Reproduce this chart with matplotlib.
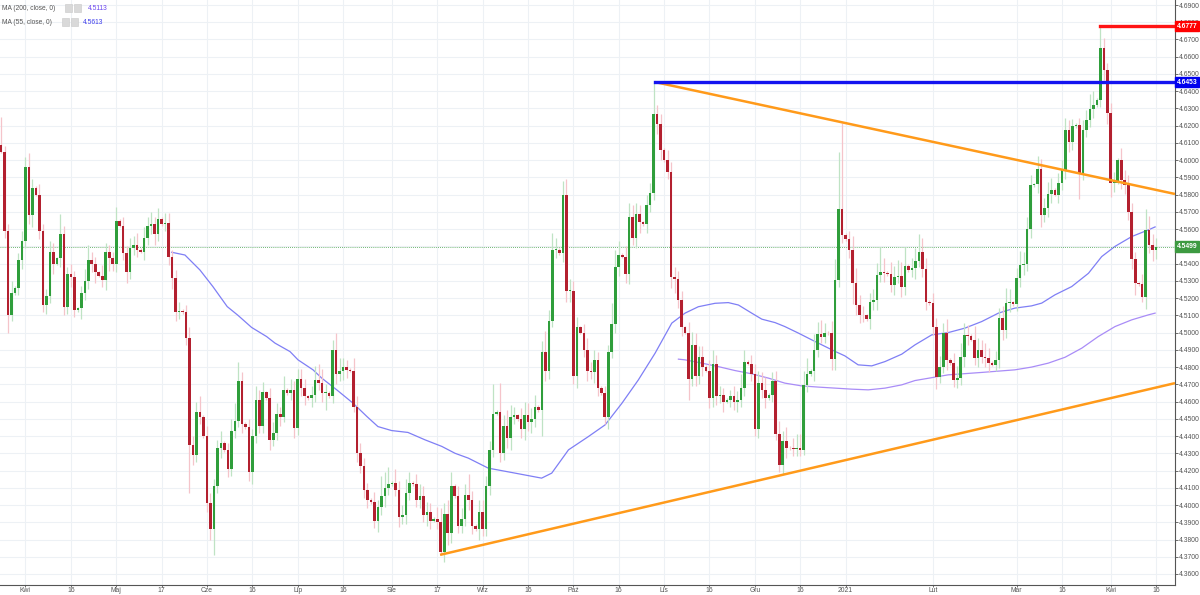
import numpy as np
import pandas as pd
import matplotlib
matplotlib.use("Agg")
import matplotlib.pyplot as plt
from matplotlib.patches import Rectangle

plt.rcParams["font.family"] = ["Liberation Sans", "DejaVu Sans"]

# daily EUR/PLN closes, one row per week (Sun..Fri bars)
first_open = 4.609
closes = [
    4.605, 4.559, 4.510, 4.523,
    4.526, 4.542, 4.553, 4.596, 4.568, 4.584,
    4.580, 4.559, 4.516, 4.521, 4.547, 4.540,
    4.543, 4.557, 4.515, 4.534, 4.5325, 4.513,
    4.514, 4.523, 4.530, 4.542, 4.540, 4.535,
    4.533, 4.5305, 4.547, 4.543, 4.540, 4.565,
    4.562, 4.546, 4.535, 4.549, 4.551, 4.548,
    4.547, 4.555, 4.562, 4.563, 4.557, 4.566,
    4.563, 4.5635, 4.544, 4.5315, 4.512, 4.5125,
    4.512, 4.497, 4.435, 4.429, 4.454, 4.451,
    4.440, 4.401, 4.386, 4.411, 4.433, 4.436,
    4.432, 4.421, 4.443, 4.449, 4.472, 4.447,
    4.445, 4.419, 4.440, 4.461, 4.4456, 4.4653,
    4.462, 4.438, 4.442, 4.453, 4.451, 4.467,
    4.465, 4.467, 4.4446, 4.473, 4.468, 4.463,
    4.462, 4.464, 4.4726, 4.471, 4.465, 4.465,
    4.463, 4.490, 4.476, 4.4775, 4.480, 4.4784,
    4.478, 4.457, 4.430, 4.4224, 4.409, 4.403,
    4.4017, 4.3905, 4.399, 4.405, 4.410, 4.412,
    4.413, 4.409, 4.393, 4.394, 4.407, 4.413,
    4.412, 4.403, 4.405, 4.394, 4.396, 4.391,
    4.392, 4.390, 4.373, 4.395, 4.384, 4.411,
    4.405, 4.3876, 4.392, 4.406, 4.403, 4.388,
    4.386, 4.396, 4.386, 4.411, 4.432, 4.453,
    4.454, 4.430, 4.446, 4.439, 4.451, 4.452,
    4.450, 4.444, 4.452, 4.448, 4.450, 4.457,
    4.455, 4.489, 4.478, 4.507, 4.548, 4.548,
    4.546, 4.580, 4.524, 4.524, 4.475, 4.503,
    4.500, 4.490, 4.478, 4.477, 4.484, 4.468,
    4.465, 4.451, 4.489, 4.505, 4.538, 4.545,
    4.544, 4.534, 4.567, 4.555, 4.569, 4.564,
    4.563, 4.574, 4.581, 4.627, 4.621, 4.606,
    4.600, 4.593, 4.532, 4.531, 4.519, 4.503,
    4.500, 4.473, 4.4926, 4.475, 4.486, 4.480,
    4.478, 4.462, 4.482, 4.463, 4.464, 4.460,
    4.461, 4.463, 4.460, 4.461, 4.468, 4.483,
    4.482, 4.476, 4.444, 4.471, 4.467, 4.462,
    4.464, 4.472, 4.441, 4.423, 4.437, 4.433,
    4.4328, 4.4325, 4.433, 4.4322, 4.4697, 4.4761,
    4.478, 4.490, 4.4993, 4.4977, 4.4997,
    4.4995, 4.4846, 4.5306, 4.5715, 4.5567,
    4.554, 4.548, 4.5287, 4.5161, 4.5103, 4.510,
    4.508, 4.518, 4.519, 4.5335, 4.5354, 4.5345,
    4.534, 4.5277, 4.5325, 4.533, 4.5267, 4.5387,
    4.5364, 4.5373, 4.5418, 4.547, 4.537, 4.518,
    4.517, 4.5035, 4.4745, 4.4803, 4.4997, 4.4842,
    4.4823, 4.4726, 4.4736, 4.4861, 4.4987, 4.498,
    4.496, 4.4852, 4.490, 4.4861, 4.4852, 4.4823,
    4.4815, 4.4842, 4.5084, 4.5016, 4.5171, 4.5175,
    4.5165, 4.5315, 4.5393, 4.5395, 4.560, 4.5856,
    4.586, 4.5947, 4.5683, 4.5721, 4.5804, 4.5827,
    4.580, 4.5866, 4.5943, 4.6175, 4.6108, 4.6198,
    4.6204, 4.5924, 4.6175, 4.6233, 4.6295, 4.632,
    4.6349, 4.6649, 4.6523, 4.6272, 4.5866, 4.587,
    4.600, 4.5885, 4.5856, 4.5702, 4.5426, 4.5286,
    4.528, 4.5209, 4.5596, 4.551, 4.5478, 4.5499,
]

# wick length above / below the body, in pips
wick_up = [
    160, 30, 40, 70,
    10, 40, 60, 60, 80, 50,
    10, 60, 40, 40, 60, 50,
    10, 120, 50, 40, 60, 30,
    10, 40, 70, 90, 50, 40,
    10, 60, 50, 40, 40, 80,
    10, 50, 40, 60, 50, 70,
    10, 60, 50, 70, 40, 60,
    10, 60, 60, 40, 50, 50,
    10, 40, 60, 50, 60, 90,
    10, 60, 60, 40, 50, 70,
    10, 40, 70, 100, 110, 50,
    10, 50, 40, 80, 60, 60,
    10, 60, 60, 60, 40, 80,
    10, 60, 50, 60, 60, 50,
    10, 50, 80, 90, 80, 50,
    10, 60, 100, 80, 50, 40,
    10, 70, 60, 60, 50, 40,
    10, 60, 40, 120, 90, 100,
    10, 80, 50, 60, 80, 60,
    10, 60, 70, 60, 60, 50,
    10, 70, 80, 60, 80, 80,
    10, 60, 60, 60, 120, 50,
    10, 70, 70, 60, 50, 170,
    10, 170, 60, 90, 70, 50,
    10, 60, 80, 70, 60, 70,
    10, 60, 120, 60, 100, 70,
    10, 80, 90, 70, 60, 60,
    10, 50, 70, 50, 60, 50,
    10, 40, 40, 120, 100, 80,
    10, 60, 80, 70, 60, 50,
    10, 60, 60, 183, 50, 60,
    10, 60, 60, 60, 50, 50,
    10, 60, 80, 70, 60, 60,
    10, 60, 80, 50, 50, 40,
    10, 40, 60, 50, 80, 70,
    10, 50, 60, 70, 60, 70,
    10, 50, 60, 80, 60, 80,
    10, 60, 80, 80, 80, 90,
    10, 90, 70, 80, 60,
    10, 70, 120, 330, 500,
    10, 50, 80, 90, 60, 50,
    10, 50, 60, 70, 140, 80,
    10, 70, 60, 90, 80, 110,
    10, 60, 70, 100, 80, 60,
    10, 60, 50, 60, 60, 80,
    10, 60, 70, 80, 70, 60,
    10, 80, 70, 60, 80, 60,
    10, 50, 60, 70, 90, 80,
    10, 60, 80, 70, 70, 60,
    10, 80, 60, 60, 70, 70,
    10, 60, 60, 70, 60, 40,
    10, 40, 60, 60, 90, 80,
    10, 128, 60, 40, 60, 60,
    10, 70, 60, 60, 50, 40,
    10, 60, 120, 80, 60, 50,
]
wick_dn = [
    10, 40, 100, 30,
    10, 40, 50, 40, 50, 70,
    10, 50, 40, 50, 40, 60,
    10, 50, 50, 40, 60, 40,
    10, 60, 40, 50, 50, 60,
    10, 40, 60, 70, 40, 50,
    10, 40, 60, 40, 40, 40,
    10, 50, 40, 50, 60, 40,
    10, 40, 50, 60, 50, 40,
    10, 40, 280, 60, 40, 40,
    10, 50, 60, 150, 40, 60,
    10, 50, 40, 40, 40, 50,
    10, 50, 70, 40, 40, 40,
    10, 60, 40, 40, 50, 30,
    10, 40, 60, 40, 50, 50,
    10, 50, 40, 40, 50, 100,
    10, 40, 60, 40, 50, 50,
    10, 30, 50, 40, 50, 50,
    10, 40, 60, 50, 60, 40,
    10, 40, 60, 40, 50, 40,
    10, 40, 50, 40, 60, 50,
    10, 40, 20, 60, 70, 60,
    10, 40, 40, 40, 60, 50,
    10, 60, 40, 40, 50, 40,
    10, 50, 40, 60, 70, 40,
    10, 50, 60, 50, 60, 50,
    10, 150, 60, 50, 40, 50,
    10, 50, 60, 60, 50, 70,
    10, 40, 60, 40, 60, 50,
    10, 40, 70, 40, 50, 50,
    10, 50, 60, 40, 60, 60,
    10, 50, 40, 40, 60, 60,
    10, 40, 60, 80, 50, 50,
    10, 120, 40, 60, 50, 50,
    10, 60, 50, 50, 40, 60,
    10, 40, 50, 60, 40, 50,
    10, 40, 40, 50, 50, 60,
    10, 40, 30, 40, 50, 60,
    10, 40, 40, 40, 30, 40,
    10, 60, 40, 40, 40,
    10, 60, 60, 40, 50,
    10, 50, 120, 60, 50, 40,
    10, 60, 50, 60, 40, 50,
    10, 40, 60, 40, 60, 50,
    10, 40, 60, 40, 50, 50,
    10, 50, 70, 40, 40, 60,
    10, 40, 50, 40, 60, 50,
    10, 40, 50, 40, 50, 50,
    10, 40, 50, 60, 50, 50,
    10, 40, 50, 60, 40, 50,
    10, 50, 70, 40, 50, 50,
    10, 50, 40, 50, 60, 50,
    10, 150, 40, 40, 40, 50,
    10, 40, 60, 60, 80, 50,
    10, 50, 50, 50, 60, 70,
    10, 30, 70, 50, 60, 50,
]

# moving averages (bar position, value)
ma55_idx = [48.9, 52.7, 57.0, 60.7, 64.8, 67.9, 71.8, 76.1, 78.5, 82.8,
            85.1, 89.4, 91.9, 96.2, 100.9, 104.8, 108.0, 111.9, 116.6, 121.5,
            126.3, 130.1, 133.9, 139.6, 147.3, 154.9, 157.8, 162.6, 168.3, 173.1,
            177.9, 182.6, 187.4, 192.2, 196.0, 199.8, 204.6, 208.4, 211.3, 215.1,
            218.0, 221.8, 224.6, 228.5, 232.3, 236.1, 239.0, 241.8, 245.6, 249.5,
            253.3, 258.1, 261.9, 266.7, 271.4, 276.2, 281.0, 285.8, 290.5, 295.3,
            298.2, 302.0, 306.8, 311.6, 315.4, 319.2, 324.0, 328.8, 330.7]
ma55_val = [4.5466, 4.5450, 4.5363, 4.5267, 4.5151, 4.5100, 4.5030, 4.4977, 4.4939, 4.4890,
            4.4842, 4.4784, 4.4736, 4.4668, 4.4590, 4.4514, 4.4455, 4.4432, 4.4421, 4.4378,
            4.4340, 4.4300, 4.4272, 4.4214, 4.4185, 4.4156, 4.4185, 4.4320, 4.4397, 4.4465,
            4.4590, 4.4725, 4.4880, 4.5055, 4.5113, 4.5150, 4.5170, 4.5174, 4.5160, 4.5113,
            4.5078, 4.5058, 4.5035, 4.4997, 4.4958, 4.4920, 4.4891, 4.4865, 4.4813, 4.4807,
            4.4832, 4.4875, 4.4929, 4.4987, 4.5000, 4.5026, 4.5064, 4.5113, 4.5142, 4.5155,
            4.5171, 4.5219, 4.5267, 4.5344, 4.5441, 4.5500, 4.5557, 4.5596, 4.5613]
ma200_idx = [194.1, 196.0, 200.8, 205.5, 210.3, 215.1, 219.9, 224.6, 229.4, 234.2,
             239.0, 243.8, 248.5, 253.3, 258.1, 261.9, 271.4, 281.0, 290.5, 295.3,
             300.1, 304.9, 309.7, 314.4, 319.2, 324.0, 328.8, 330.7]
ma200_val = [4.4846, 4.4842, 4.4823, 4.4803, 4.4780, 4.4761, 4.4736, 4.4707, 4.4691, 4.4684,
             4.4678, 4.4672, 4.4668, 4.4678, 4.4697, 4.4722, 4.4755, 4.4769, 4.4784, 4.4800,
             4.4823, 4.4857, 4.4910, 4.4977, 4.5035, 4.5074, 4.5103, 4.5113]

# drawings
upper_trend = ([187.4, 336.4], [4.6453, 4.5804])
lower_trend = ([125.8, 336.4], [4.3711, 4.4707])
level_blue = 4.6453
level_red = 4.6777
last_price = 4.5499

tick_dates = ["2020-04-01", "2020-04-16", "2020-05-01", "2020-05-17", "2020-06-01",
              "2020-06-16", "2020-07-01", "2020-07-16", "2020-08-02", "2020-08-17",
              "2020-09-01", "2020-09-16", "2020-10-01", "2020-10-16", "2020-11-01",
              "2020-11-16", "2020-12-01", "2020-12-16", "2021-01-03", "2021-02-01",
              "2021-03-01", "2021-03-16", "2021-04-01", "2021-04-16"]
tick_labels = ["Kwi", "16", "Maj", "17", "Cze", "16", "Lip", "16", "Sie", "17",
               "Wrz", "16", "Paź", "16", "Lis", "16", "Gru", "16", "2021", "Lut",
               "Mar", "16", "Kwi", "16"]

dates = pd.date_range("2020-03-24", "2021-04-16", freq="D")
dates = dates[(dates.dayofweek != 5) & ~dates.isin(pd.to_datetime(["2020-12-25", "2021-01-01"]))]

c = np.array(closes)
o = np.r_[first_open, c[:-1]]
hi = np.maximum(o, c) + np.array(wick_up) / 1e4
lo = np.minimum(o, c) - np.array(wick_dn) / 1e4
idx = np.arange(len(c))
up = c >= o

W, H = 1200, 595
fig = plt.figure(figsize=(W / 100, H / 100), dpi=100)
ax = fig.add_axes([0, 10 / H, 1175 / W, 585 / H])
ax.set_xlim(-0.3, 336.4)
ax.set_ylim(4.35362, 4.6929)

grid_c = "#edf1f5"
yt = np.round(np.arange(4.36, 4.6901, 0.01), 2)
for y in yt:
    ax.axhline(y, color=grid_c, lw=0.8, zorder=0)
tick_pos = [int(np.searchsorted(dates, pd.Timestamp(d))) for d in tick_dates]
for x in tick_pos:
    ax.axvline(x, color=grid_c, lw=0.8, zorder=0)

ax.plot(ma55_idx, ma55_val, color="#7f7ff5", lw=0.9, zorder=1)
ax.plot(ma200_idx, ma200_val, color="#a98cf7", lw=0.9, zorder=1)
ax.axhline(last_price, color="#43a047", lw=0.6, ls=(0, (1, 1.5)), zorder=1.5)

ax.vlines(idx[up], lo[up], hi[up], color="#bfe3c4", lw=0.9, zorder=2)
ax.vlines(idx[~up], lo[~up], hi[~up], color="#f5c4ca", lw=0.9, zorder=2)
body_lo = np.minimum(o, c)
body_h = np.maximum(np.abs(c - o), 0.0005)
ax.bar(idx[up], body_h[up], bottom=body_lo[up], width=0.74, color="#2f9e3b", lw=0, zorder=3)
ax.bar(idx[~up], body_h[~up], bottom=body_lo[~up], width=0.74, color="#b3202f", lw=0, zorder=3)

ax.plot(*upper_trend, color="#ff9a1a", lw=1.8, zorder=4, solid_capstyle="butt")
ax.plot(*lower_trend, color="#ff9a1a", lw=1.8, zorder=4, solid_capstyle="butt")
ax.plot([187.4, 336.4], [level_blue, level_blue], color="#1414f0", lw=2.4, zorder=4)
ax.plot([314.9, 336.4], [level_red, level_red], color="#ff1414", lw=2.4, zorder=4)

# axes styling
for s in ["top", "left"]:
    ax.spines[s].set_visible(False)
ax.spines["right"].set_color("#555555")
ax.spines["bottom"].set_color("#555555")
ax.yaxis.tick_right()
ax.set_yticks(yt)
# the 4.5500 label sits under the last-price box, as in the reference
ax.set_yticklabels(["" if abs(v - 4.55) < 1e-6 else f"{v:.4f}" for v in yt])
ax.tick_params(axis="y", labelsize=4.9, colors="#555555", length=2, pad=1, width=0.6)
ax.set_xticks(tick_pos)
ax.set_xticklabels(tick_labels)
ax.tick_params(axis="x", labelsize=4.9, colors="#555555", length=1.5, pad=0.3, width=0.6)

tr = ax.get_yaxis_transform()
for val, col in [(level_red, "#ff0000"), (level_blue, "#0000ee"), (last_price, "#3d9a41")]:
    ax.text(1.0 + 1.5 / 1175, val, f"{val:.4f}", transform=tr, ha="left", va="center",
            fontsize=4.9, color="white", fontweight="bold", zorder=6, clip_on=False,
            bbox=dict(boxstyle="square,pad=0.25", fc=col, ec=col))

# indicator legend (top left)
def px(x, y):
    return x / W, 1 - y / H

rows = [("MA (200, close, 0)", 8, 65, 88, "4.5113", "#6a45ef"),
        ("MA (55, close, 0)", 22, 62, 83, "4.5613", "#3b3bec")]
for label, y, ix, vx, val, col in rows:
    fig.text(*px(2, y), label, fontsize=4.8, color="#555555", va="center", ha="left")
    for k in range(2):
        x0, y0 = px(ix + 9 * k, y + 4)
        fig.add_artist(Rectangle((x0, y0), 7 / W, 8 / H, transform=fig.transFigure,
                                 fc="#d9d9d9", ec="#c8c8c8", lw=0.4))
    fig.text(*px(vx, y), val, fontsize=4.8, color=col, va="center", ha="left")

fig.savefig("out.png", dpi=100)
